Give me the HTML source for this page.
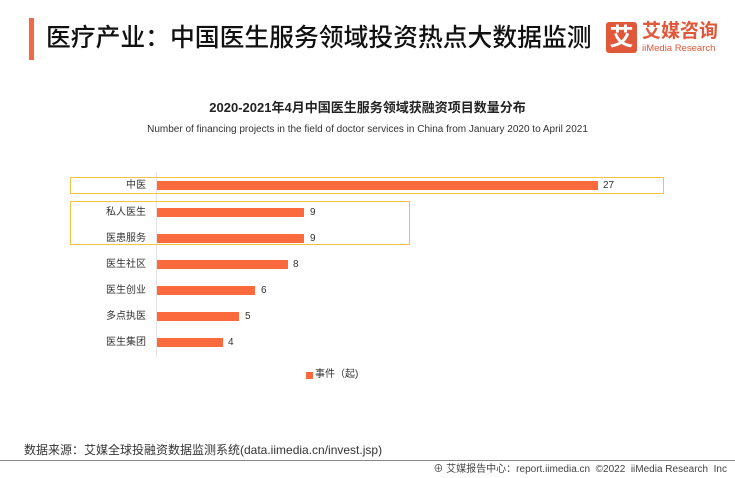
<!DOCTYPE html>
<html><head><meta charset="utf-8"><style>
body{margin:0;width:735px;height:478px;background:#fff;position:relative;overflow:hidden;font-family:"Liberation Sans","Noto Sans CJK SC",sans-serif;color:#222}
.a{position:absolute;white-space:nowrap}
.bar{position:absolute;left:157px;height:9px;background:#fa6a3c}
.lab{position:absolute;right:589px;font-size:10px;color:#333;line-height:12px;text-align:right}
.val{position:absolute;font-size:10px;color:#333;line-height:12px}
</style></head><body>
<div class="a" style="left:29px;top:18px;width:5px;height:42px;background:#f26a45"></div>
<div class="a" style="left:46px;top:23px;font-size:24.8px;line-height:32px;color:#111;font-weight:500">医疗产业：中国医生服务领域投资热点大数据监测</div>
<div class="a" style="left:606px;top:22px;width:31px;height:31px;background:#e0573a;border-radius:3px;color:#fff;font-size:24px;line-height:31px;text-align:center;font-weight:bold">艾</div>
<div class="a" style="left:642px;top:21px;font-size:19px;line-height:22px;color:#e0573a;font-weight:bold">艾媒咨询</div>
<div class="a" style="left:642px;top:43px;font-size:9.5px;line-height:11px;color:#e0573a">iiMedia Research</div>
<div class="a" style="left:0;width:735px;top:100px;text-align:center;font-size:13px;font-weight:bold;line-height:16px">2020-2021年4月中国医生服务领域获融资项目数量分布</div>
<div class="a" style="left:0;width:735px;top:123px;text-align:center;font-size:10px;line-height:13px;color:#333">Number of financing projects in the field of doctor services in China from January 2020 to April 2021</div>
<div class="a" style="left:156px;top:172px;width:1px;height:185px;background:#e4e4e4"></div>
<div class="a" style="left:70px;top:177px;width:592px;height:15px;border:1.5px solid #f5c242"></div>
<div class="a" style="left:70px;top:201px;width:338px;height:42px;border:1.5px solid #f5c242"></div>
<div class="bar" style="top:181px;width:441px"></div><div class="lab" style="top:180px">中医</div><div class="val" style="left:603px;top:180px">27</div>
<div class="bar" style="top:208px;width:147px"></div><div class="lab" style="top:207px">私人医生</div><div class="val" style="left:310px;top:207px">9</div>
<div class="bar" style="top:234px;width:147px"></div><div class="lab" style="top:233px">医患服务</div><div class="val" style="left:310px;top:233px">9</div>
<div class="bar" style="top:260px;width:131px"></div><div class="lab" style="top:259px">医生社区</div><div class="val" style="left:293px;top:259px">8</div>
<div class="bar" style="top:286px;width:98px"></div><div class="lab" style="top:285px">医生创业</div><div class="val" style="left:261px;top:285px">6</div>
<div class="bar" style="top:312px;width:82px"></div><div class="lab" style="top:311px">多点执医</div><div class="val" style="left:245px;top:311px">5</div>
<div class="bar" style="top:338px;width:66px"></div><div class="lab" style="top:337px">医生集团</div><div class="val" style="left:228px;top:337px">4</div>
<div class="a" style="left:306px;top:372px;width:7px;height:7px;background:#fa6a3c"></div>
<div class="a" style="left:315px;top:369px;font-size:10px;line-height:12px;color:#333">事件（起)</div>
<div class="a" style="left:24px;top:442px;font-size:12px;line-height:16px;color:#333">数据来源：艾媒全球投融资数据监测系统(data.iimedia.cn/invest.jsp)</div>
<div class="a" style="left:0;top:460px;width:735px;height:1px;background:#888"></div>
<div class="a" style="right:8px;top:463px;font-size:10px;line-height:13px;color:#444">⊕ 艾媒报告中心：report.iimedia.cn &nbsp;©2022 &nbsp;iiMedia Research &nbsp;Inc</div>
</body></html>
